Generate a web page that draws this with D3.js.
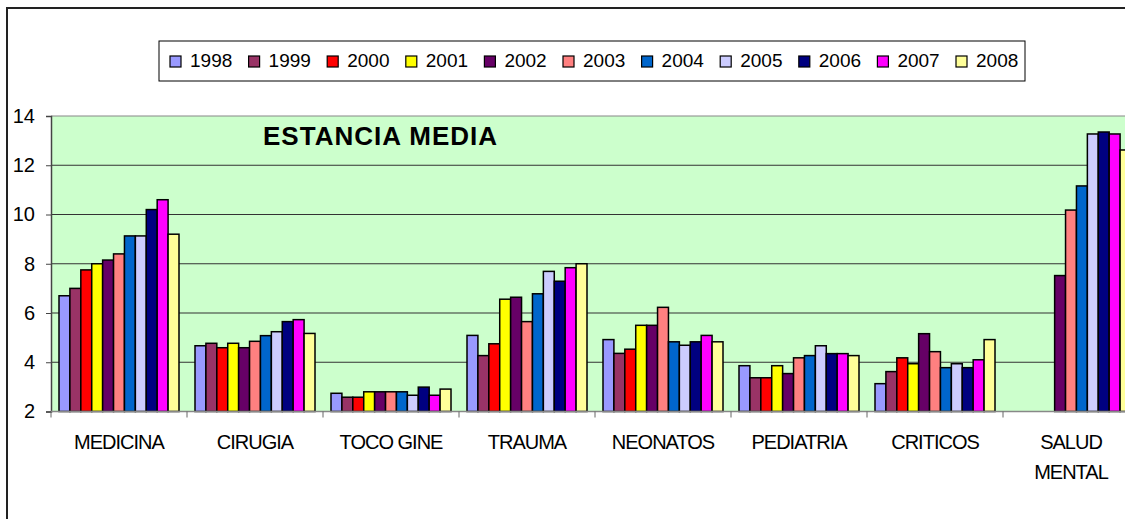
<!DOCTYPE html>
<html>
<head>
<meta charset="utf-8">
<script src="https://cdn.jsdelivr.net/npm/d3@7"></script>
<style>
  body { margin: 0; background: #fff; }
  svg { display: block; font-family: Arial, "Liberation Sans", sans-serif; }
</style>
</head>
<body>
<svg id="chart" width="1125" height="519"></svg>
<script>
// categories and labels
const categories = ["MEDICINA", "CIRUGIA", "TOCO GINE", "TRAUMA", "NEONATOS", "PEDIATRIA", "CRITICOS", "SALUD MENTAL"];
const categoryLines = [["MEDICINA"], ["CIRUGIA"], ["TOCO GINE"], ["TRAUMA"], ["NEONATOS"], ["PEDIATRIA"], ["CRITICOS"], ["SALUD", "MENTAL"]];
const years = ["1998", "1999", "2000", "2001", "2002", "2003", "2004", "2005", "2006", "2007", "2008"];
const yearColors = ["#9999FF", "#993366", "#FF0000", "#FFFF00", "#660066", "#FF8080", "#0066CC", "#CCCCFF", "#000080", "#FF00FF", "#FFFF99"];
const yTicks = [2, 4, 6, 8, 10, 12, 14];

// one array per year, values in category order (null = no bar)
const s1998 = [6.7, 4.67, 2.74, 5.09, 4.92, 3.86, 3.13, null];
const s1999 = [7.0, 4.77, 2.58, 4.27, 4.36, 3.37, 3.62, null];
const s2000 = [7.75, 4.59, 2.58, 4.75, 4.53, 3.37, 4.18, null];
const s2001 = [8.0, 4.77, 2.8, 6.56, 5.5, 3.86, 3.94, null];
const s2002 = [8.15, 4.59, 2.8, 6.64, 5.5, 3.54, 5.16, 7.52];
const s2003 = [8.4, 4.85, 2.8, 5.65, 6.23, 4.18, 4.43, 10.18];
const s2004 = [9.13, 5.08, 2.8, 6.78, 4.83, 4.27, 3.78, 11.16];
const s2005 = [9.13, 5.24, 2.66, 7.69, 4.69, 4.67, 3.94, 13.27];
const s2006 = [10.2, 5.65, 2.99, 7.29, 4.83, 4.35, 3.78, 13.35];
const s2007 = [10.6, 5.73, 2.66, 7.84, 5.09, 4.35, 4.1, 13.27];
const s2008 = [9.2, 5.17, 2.91, 8.0, 4.83, 4.27, 4.92, 12.62];
const series = [s1998, s1999, s2000, s2001, s2002, s2003, s2004, s2005, s2006, s2007, s2008];

const svg = d3.select("#chart");

// outer chart frame (cut by the picture on the right and bottom)
svg.append("path")
  .attr("d", "M7,519V8H1125")
  .attr("fill", "none")
  .attr("stroke", "#222")
  .attr("stroke-width", 2);

const plotLeft = 51;
const step = 136;

const x0 = d3.scaleBand()
  .domain(categories)
  .range([plotLeft, plotLeft + step * categories.length]);

const x1 = d3.scaleBand()
  .domain(years)
  .range([8, step - 8]);

const y = d3.scaleLinear().domain([2, 14]).range([411.5, 116]);

// plot background
svg.append("rect")
  .attr("x", plotLeft)
  .attr("y", y(14))
  .attr("width", step * categories.length)
  .attr("height", y(2) - y(14))
  .attr("fill", "#CCFFCC");

// gridlines
svg.append("g")
  .selectAll("line")
  .data(yTicks.slice(1))
  .enter()
  .append("line")
  .attr("x1", plotLeft)
  .attr("x2", plotLeft + step * categories.length)
  .attr("y1", d => y(d))
  .attr("y2", d => y(d))
  .attr("stroke", d => (d === 14 ? "#888" : "#333"))
  .attr("stroke-width", 1.2);

// bars
const groups = svg.append("g")
  .selectAll("g")
  .data(years)
  .enter()
  .append("g")
  .attr("fill", (d, i) => yearColors[i]);

groups.selectAll("rect")
  .data((yr, i) => series[i].map((v, j) => ({ cat: categories[j], yr: yr, v: v })).filter(d => d.v !== null))
  .enter()
  .append("rect")
  .attr("x", d => x0(d.cat) + x1(d.yr))
  .attr("y", d => y(d.v))
  .attr("width", x1.bandwidth())
  .attr("height", d => y(2) - y(d.v))
  .attr("stroke", "#000")
  .attr("stroke-width", 1.5);

// left axis
const yAxis = svg.append("g")
  .attr("transform", `translate(${plotLeft},0)`)
  .call(d3.axisLeft(y).tickValues(yTicks).tickSize(5).tickPadding(11));
yAxis.select(".domain").attr("stroke", "#444").attr("stroke-width", 1.5);
yAxis.selectAll(".tick line").attr("stroke", "#444");
yAxis.selectAll("text")
  .attr("font-size", 20)
  .attr("font-family", "Arial, 'Liberation Sans', sans-serif")
  .attr("fill", "#000");

// bottom axis
svg.append("line")
  .attr("x1", plotLeft)
  .attr("x2", plotLeft + step * categories.length)
  .attr("y1", y(2))
  .attr("y2", y(2))
  .attr("stroke", "#888")
  .attr("stroke-width", 1.5);

svg.append("g")
  .selectAll("line")
  .data(categories)
  .enter()
  .append("line")
  .attr("x1", d => x0(d))
  .attr("x2", d => x0(d))
  .attr("y1", y(2))
  .attr("y2", y(2) + 6)
  .attr("stroke", "#666");

// category labels
const catLabels = svg.append("g")
  .selectAll("text")
  .data(categories)
  .enter()
  .append("text")
  .attr("x", d => x0(d) + step / 2)
  .attr("y", 449)
  .attr("text-anchor", "middle")
  .attr("font-size", 20)
  .attr("letter-spacing", "-1px")
  .attr("fill", "#000");

catLabels.selectAll("tspan")
  .data((d, i) => categoryLines[i])
  .enter()
  .append("tspan")
  .attr("x", function() { return d3.select(this.parentNode).attr("x"); })
  .attr("dy", (d, i) => (i === 0 ? 0 : 30))
  .text(d => d);

// title
svg.append("text")
  .attr("x", 263)
  .attr("y", 145)
  .attr("font-size", 26)
  .attr("font-weight", "bold")
  .attr("letter-spacing", "1px")
  .attr("fill", "#000")
  .text("ESTANCIA MEDIA");

// legend
const legend = svg.append("g");
legend.append("rect")
  .attr("x", 159)
  .attr("y", 41)
  .attr("width", 866)
  .attr("height", 40)
  .attr("fill", "#fff")
  .attr("stroke", "#000")
  .attr("stroke-width", 1);

const legendX = d3.scalePoint().domain(years).range([170, 956]);

const items = legend.selectAll("g.item")
  .data(years)
  .enter()
  .append("g")
  .attr("class", "item")
  .attr("transform", d => `translate(${legendX(d)},56)`);

items.append("rect")
  .attr("width", 11)
  .attr("height", 11)
  .attr("fill", (d, i) => yearColors[i])
  .attr("stroke", "#000")
  .attr("stroke-width", 1.2);

items.append("text")
  .attr("x", 20)
  .attr("y", 11)
  .attr("font-size", 19)
  .attr("fill", "#000")
  .text(d => d);
</script>
</body>
</html>
